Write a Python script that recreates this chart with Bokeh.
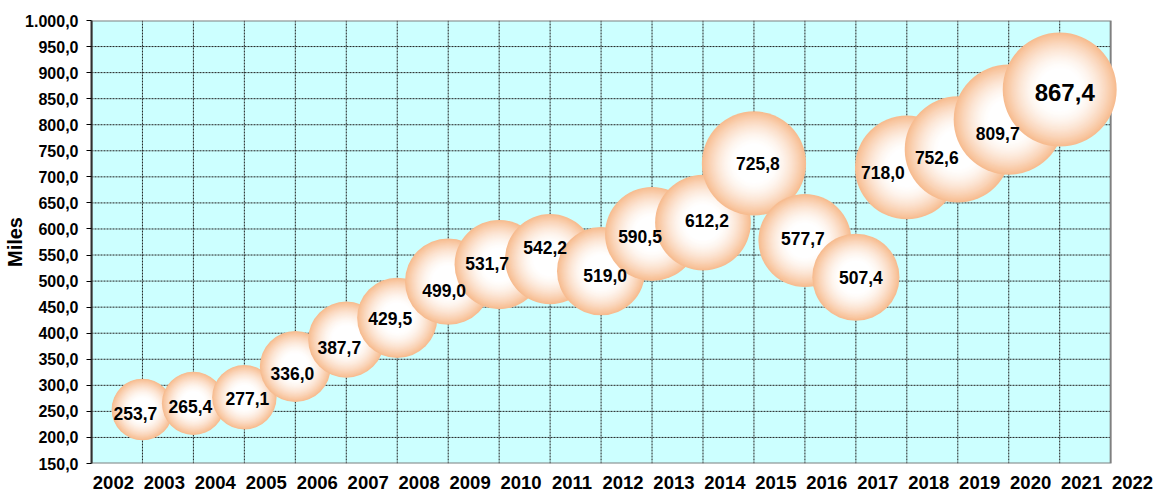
import math
from bokeh.plotting import figure
from bokeh.models import Range1d, FixedTicker, ColumnDataSource
from bokeh.embed import file_html
from bokeh.resources import INLINE
from bokeh.core.properties import value

# ---------------- data ----------------
values = [253.7, 265.4, 277.1, 336.0, 387.7, 429.5, 499.0, 531.7, 542.2, 519.0,
          590.5, 612.2, 725.8, 577.7, 507.4, 718.0, 752.6, 809.7, 867.4]
x_tick_labels = ["2002", "2003", "2004", "2005", "2006", "2007", "2008", "2009",
                 "2010", "2011", "2012", "2013", "2014", "2015", "2016", "2017",
                 "2018", "2019", "2020", "2021", "2022"]
y_ticks = [150, 200, 250, 300, 350, 400, 450, 500, 550, 600, 650, 700, 750,
           800, 850, 900, 950, 1000]
y_title = "Miles"

# label placement tweaks (pixels, screen: +x right, +y down)
label_dx = [-7, -3, 3, -3, -7, -7, -4, -12, -5, 4, -12, 4, 4, -2, 5, -24, -21, -11, 5]
label_dy = [4, 3, 1, 7, 8, 1, 9, -1, -12, 4, 3, -2, 0, -2, 0, 5, 8, 14, 3]

# ---------------- style ----------------
FONT = "Liberation Sans"
BG = "#CCFFFF"
PEACH = (247, 188, 144)
BUBBLE_K = 3.87          # diameter (px) per sqrt(value)
X_SHIFT = 0.57           # bubbles sit on the grid lines, year labels between
AREA_X0, AREA_X1 = -0.43, 19.57   # visible plot area (20 columns)
FRAME_X1 = 20.45                  # frame extends right so the last year label fits
Y0, Y1 = y_ticks[0], y_ticks[-1]

def fmt_de(v):
    s = f"{v:,.1f}"
    return s.replace(",", "X").replace(".", ",").replace("X", ".")

# bubble rings (radial gradient emulation)
N_RING = 32
F_WHITE = 0.35
bx, by, bsize, bcol = [], [], [], []
for i, v in enumerate(values):
    d = BUBBLE_K * math.sqrt(v)
    for k in range(N_RING + 1):
        f = 1.0 - k * (1.0 - F_WHITE) / N_RING
        t = max(0.0, min(1.0, (f - F_WHITE) / (1.0 - F_WHITE))) ** 1.6
        r = round(255 + (PEACH[0] - 255) * t)
        g = round(255 + (PEACH[1] - 255) * t)
        b = round(255 + (PEACH[2] - 255) * t)
        bx.append(i + X_SHIFT)
        by.append(v)
        bsize.append(d * f)
        bcol.append(f"#{r:02x}{g:02x}{b:02x}")
bubble_src = ColumnDataSource(dict(x=bx, y=by, size=bsize, color=bcol))

label_src = ColumnDataSource(dict(
    x=[i + X_SHIFT for i in range(len(values))],
    y=values,
    text=[fmt_de(v) for v in values],
    dx=label_dx,
    dy=label_dy,
    fs=["17.5px"] * (len(values) - 1) + ["24px"],
))

p = figure(width=1157, height=496, output_backend="svg", toolbar_location=None,
           x_range=Range1d(AREA_X0, FRAME_X1), y_range=Range1d(Y0, Y1),
           min_border_left=91, min_border_right=2, min_border_top=20,
           min_border_bottom=33)
p.background_fill_color = "white"
p.border_fill_color = "white"
p.outline_line_color = None
p.xgrid.visible = False
p.ygrid.visible = False

# plot area background
p.quad(left=[AREA_X0], right=[AREA_X1], bottom=[Y0], top=[Y1],
       fill_color=BG, line_color=None)

# grid lines
gx = [i + X_SHIFT for i in range(len(values))]
p.segment(x0=gx, x1=gx, y0=[Y0] * len(gx), y1=[Y1] * len(gx),
          line_color="#202020", line_dash="2 1", line_width=1)
gy = y_ticks[1:-1]
p.segment(x0=[AREA_X0] * len(gy), x1=[AREA_X1] * len(gy), y0=gy, y1=gy,
          line_color="#202020", line_dash="2 1", line_width=1)

# plot area border
p.quad(left=[AREA_X0], right=[AREA_X1], bottom=[Y0], top=[Y1],
       fill_color=None, line_color="#808080", line_width=2)

# bubbles + labels
p.scatter("x", "y", size="size", fill_color="color", line_color=None,
          source=bubble_src)
p.text("x", "y", text="text", x_offset="dx", y_offset="dy", source=label_src,
       text_align="center", text_baseline="middle", text_font=value(FONT),
       text_font_style="bold", text_font_size="fs", text_color="black")

# x axis
xa = p.xaxis[0]
x_tick_pos = list(range(len(x_tick_labels)))
xa.ticker = FixedTicker(ticks=x_tick_pos)
xa.major_label_overrides = {t: s for t, s in zip(x_tick_pos, x_tick_labels)}
xa.major_tick_line_color = None
xa.major_tick_out = 0
xa.major_tick_in = 0
xa.minor_tick_line_color = None
xa.axis_line_color = None
xa.major_label_standoff = 12
xa.major_label_text_font = FONT
xa.major_label_text_font_style = "bold"
xa.major_label_text_font_size = "18.5px"
xa.major_label_text_color = "black"

# y axis
ya = p.yaxis[0]
ya.ticker = FixedTicker(ticks=y_ticks)
ya.major_label_overrides = {t: fmt_de(t) for t in y_ticks}
ya.major_tick_out = 5
ya.major_tick_in = 0
ya.major_tick_line_color = "black"
ya.minor_tick_line_color = None
ya.axis_line_color = "#303030"
ya.axis_line_width = 2
ya.major_label_standoff = 8
ya.major_label_text_font = FONT
ya.major_label_text_font_style = "bold"
ya.major_label_text_font_size = "16px"
ya.major_label_text_color = "black"
ya.axis_label = y_title
ya.axis_label_standoff = -4
ya.axis_label_text_font = FONT
ya.axis_label_text_font_style = "bold"
ya.axis_label_text_font_size = "20px"
ya.axis_label_text_color = "black"

open("out.html", "w").write(file_html(p, INLINE))
